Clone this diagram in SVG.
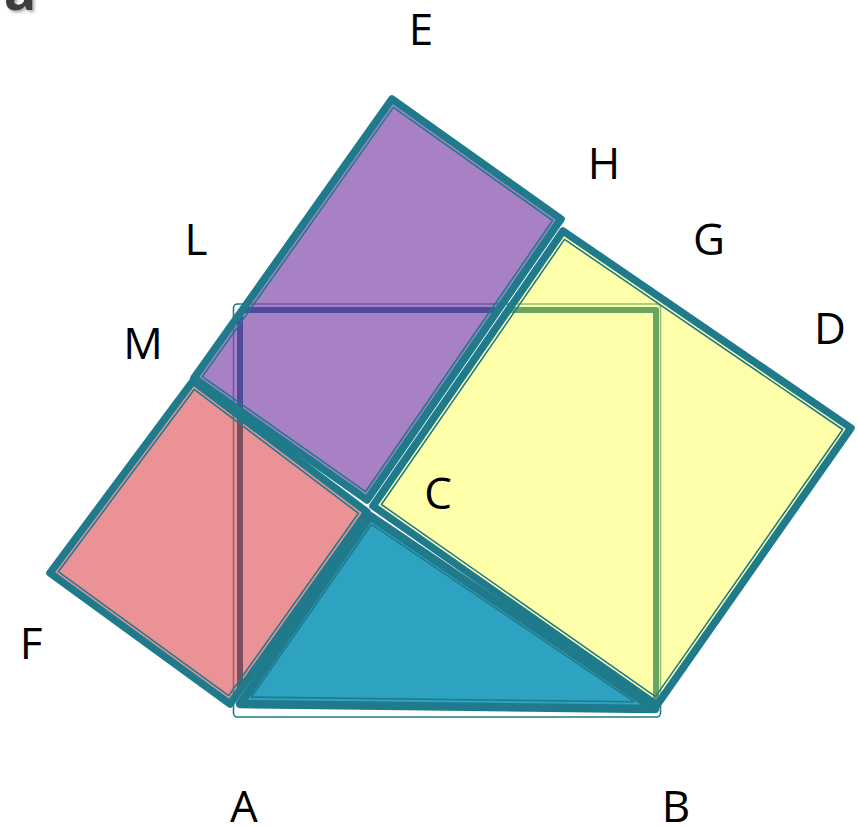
<svg xmlns="http://www.w3.org/2000/svg" xmlns:xlink="http://www.w3.org/1999/xlink" width="858" height="826" viewBox="0 0 858 826">
<style>
.b{stroke:#1f7a8c;stroke-width:7.5;stroke-linejoin:round}
.i{fill:none;stroke:#1f7a8c;stroke-width:1.6;stroke-linejoin:round}
.sq{fill:none;stroke-width:6;stroke-linejoin:round}
.so{fill:none;stroke-width:1.6}
.lbl{font-family:"Open Sans","Noto Sans",sans-serif;font-size:44px;fill:#000;text-anchor:middle}
</style>
<defs>
<path id="sq" d="M240,707 V310 H656 V707"/>
<rect id="sqo" x="233.5" y="304" width="427" height="413" rx="4"/>
<polygon id="pPink" points="230,704 50,573 193,381 367,512"/>
<polygon id="pPurple" points="194,378 392,99 561,219 367,500"/>
<polygon id="pYellow" points="373,506 563,231 851,428 657,705"/>
<clipPath id="cPink"><use xlink:href="#pPink"/></clipPath>
<clipPath id="cPurple"><use xlink:href="#pPurple"/></clipPath>
<clipPath id="cYellow"><use xlink:href="#pYellow"/></clipPath>
<filter id="sh" x="-20%" y="-20%" width="140%" height="140%"><feDropShadow dx="2" dy="2" stdDeviation="1.5" flood-color="#999" flood-opacity="0.8"/></filter>
</defs>
<rect width="858" height="826" fill="#fff"/>
<text x="20" y="10" font-family="'Open Sans','Noto Sans',sans-serif" font-weight="bold" font-size="54" fill="#3c3c3c" text-anchor="middle" filter="url(#sh)">a</text>

<g id="square-AB-outline">
<use xlink:href="#sqo" class="so" stroke="#1f7a8c"/>
</g>

<g id="square-AC">
<use xlink:href="#pPink" fill="#eb9296"/>
<g clip-path="url(#cPink)">
<use xlink:href="#sqo" class="so" stroke="#a0606e"/>
<use xlink:href="#sq" class="sq" stroke="#7a4d5f"/>
</g>
<use xlink:href="#pPink" class="b" fill="none"/>
<polygon class="i" points="228.6,695.7 58.3,571.7 194.2,389.4 358.5,513.3"/>
</g>

<g id="parallelogram-MEHC">
<use xlink:href="#pPurple" fill="#a880c4"/>
<g clip-path="url(#cPurple)">
<use xlink:href="#sqo" class="so" stroke="#6a58aa"/>
<use xlink:href="#sq" class="sq" stroke="#4f4a9c"/>
</g>
<use xlink:href="#pPurple" class="b" fill="none"/>
<polygon class="i" points="202.4,376.6 393.4,107.4 552.6,220.5 365.5,491.7"/>
</g>

<g id="square-BC">
<use xlink:href="#pYellow" fill="#ffffaa"/>
<g clip-path="url(#cYellow)">
<use xlink:href="#sqo" class="so" stroke="#8fc070"/>
<use xlink:href="#sq" class="sq" stroke="#6aa45e"/>
</g>
<use xlink:href="#pYellow" class="b" fill="none"/>
<polygon class="i" points="381.4,504.5 564.5,239.4 842.7,429.5 655.5,696.6"/>
</g>

<g id="triangle-ABC">
<polygon class="b" style="stroke-width:8.5" fill="#2ea3c1" points="240,704 370,516 655,709"/>
<polygon class="i" points="251.4,697.1 371.5,524.3 634.1,701.7"/>
</g>

<g id="labels">
<text class="lbl" x="421" y="45">E</text>
<text class="lbl" x="604" y="179">H</text>
<text class="lbl" x="709" y="255">G</text>
<text class="lbl" x="830" y="344">D</text>
<text class="lbl" x="196" y="255">L</text>
<text class="lbl" x="143" y="359">M</text>
<text class="lbl" x="438" y="509">C</text>
<text class="lbl" x="31" y="659">F</text>
<text class="lbl" x="244" y="822">A</text>
<text class="lbl" x="676" y="822">B</text>
</g>
</svg>
